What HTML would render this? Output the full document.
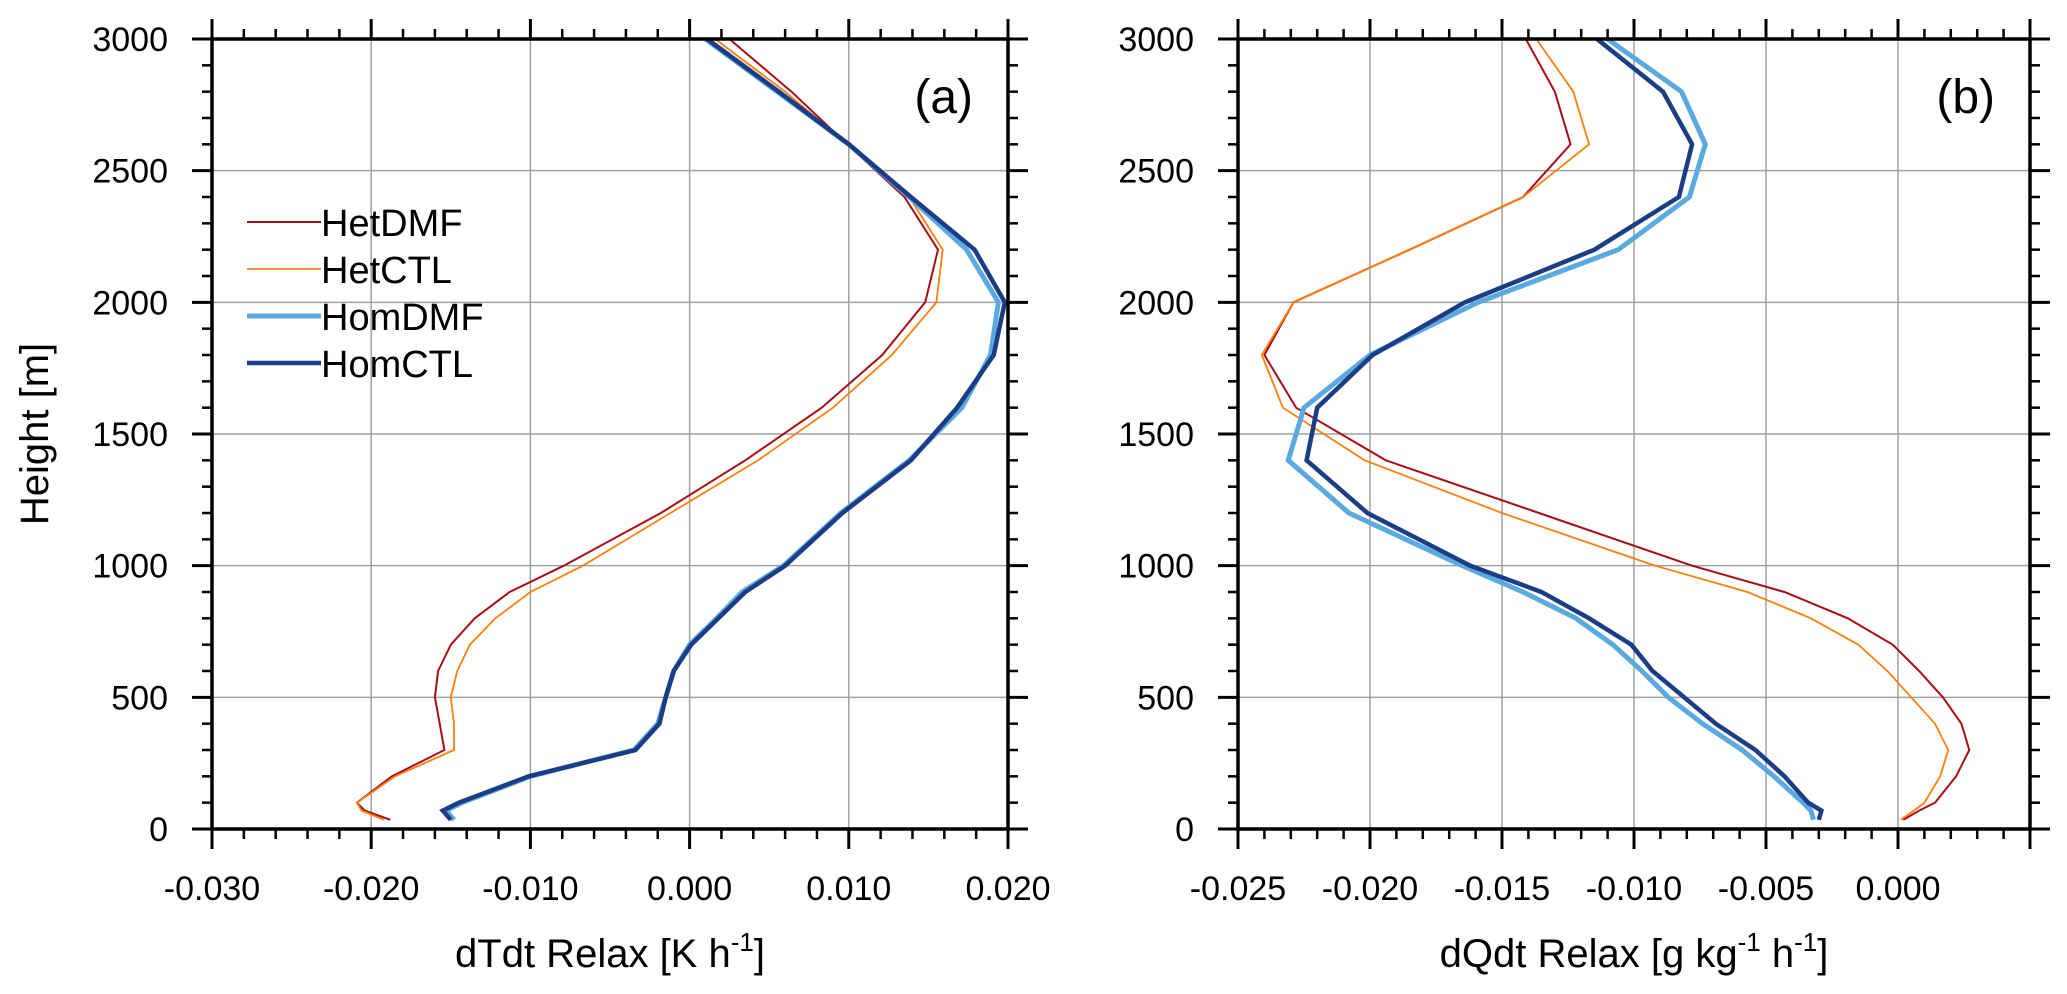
<!DOCTYPE html>
<html><head><meta charset="utf-8">
<style>
html,body{margin:0;padding:0;background:#fff;}
svg{display:block;font-family:"Liberation Sans",Arial,sans-serif;}
</style></head>
<body>
<svg id="chart" width="2067" height="994" viewBox="0 0 2067 994" xmlns="http://www.w3.org/2000/svg"></svg>
<script>
// ---- data ----
const heights = [35,70,100,200,300,400,500,600,700,800,900,1000,1200,1400,1600,1800,2000,2200,2400,2600,2800,3000];
const seriesNames = ["HetDMF","HetCTL","HomDMF","HomCTL"];
// panel (a) dTdt Relax
const aHetDMF = [-0.0188,-0.0204,-0.0209,-0.0187,-0.0154,-0.0157,-0.0160,-0.0158,-0.0150,-0.0135,-0.0113,-0.0079,-0.0018,0.0035,0.0083,0.0121,0.0148,0.0156,0.0135,0.0099,0.0064,0.0025];
const aHetCTL = [-0.0192,-0.0206,-0.0209,-0.0185,-0.0148,-0.0148,-0.0150,-0.0146,-0.0138,-0.0122,-0.0100,-0.0067,-0.0012,0.0043,0.0090,0.0127,0.0155,0.0159,0.0138,0.0099,0.0060,0.0016];
const aHomDMF = [-0.0148,-0.0153,-0.0143,-0.0100,-0.0035,-0.0020,-0.0015,-0.0010,0.0000,0.0017,0.0033,0.0059,0.0095,0.0138,0.0171,0.0189,0.0194,0.0174,0.0138,0.0100,0.0055,0.0010];
const aHomCTL = [-0.0150,-0.0155,-0.0145,-0.0101,-0.0034,-0.0019,-0.0015,-0.0010,0.0001,0.0018,0.0035,0.0060,0.0096,0.0139,0.0168,0.0191,0.0198,0.0179,0.0139,0.0100,0.0056,0.0011];
// panel (b) dQdt Relax
const bHetDMF = [0.0002,0.0008,0.0014,0.0022,0.0027,0.0024,0.0017,0.0008,-0.0002,-0.0019,-0.0043,-0.0078,-0.0136,-0.0194,-0.0228,-0.0240,-0.0229,-0.0185,-0.0142,-0.0124,-0.0130,-0.0141];
const bHetCTL = [0.0001,0.0006,0.0010,0.0016,0.0019,0.0014,0.0005,-0.0004,-0.0015,-0.0033,-0.0057,-0.0092,-0.0150,-0.0202,-0.0233,-0.0241,-0.0229,-0.0185,-0.0142,-0.0117,-0.0123,-0.0137];
const bHomDMF = [-0.0032,-0.0033,-0.0036,-0.0047,-0.0059,-0.0074,-0.0087,-0.0097,-0.0108,-0.0122,-0.0142,-0.0165,-0.0208,-0.0231,-0.0225,-0.0200,-0.0159,-0.0106,-0.0079,-0.0073,-0.0082,-0.0110];
const bHomCTL = [-0.0030,-0.0029,-0.0034,-0.0043,-0.0054,-0.0069,-0.0081,-0.0093,-0.0101,-0.0117,-0.0135,-0.0162,-0.0201,-0.0224,-0.0220,-0.0199,-0.0164,-0.0115,-0.0083,-0.0078,-0.0089,-0.0114];
const aTickLabels = ["-0.030","-0.020","-0.010","0.000","0.010","0.020"];
const bTickLabels = ["-0.025","-0.020","-0.015","-0.010","-0.005","0.000"];
const yTickLabels = ["0","500","1000","1500","2000","2500","3000"];

const NS="http://www.w3.org/2000/svg";
const svg=document.getElementById('chart');
function mk(tag,attrs,parent){const e=document.createElementNS(NS,tag);for(const k in attrs)e.setAttribute(k,attrs[k]);(parent||svg).appendChild(e);return e;}

const TOP=39, BOT=829;
const styles={
  HetDMF:{c:"#a50f15",w:2},
  HetCTL:{c:"#ff7f0e",w:1.8},
  HomDMF:{c:"#5aa9df",w:5},
  HomCTL:{c:"#1a3d85",w:4.5}
};
function yS(h){return BOT-(h/3000)*(BOT-TOP);}

function panel(name,L,R,xmin,xmax,majorStep,minorStep,tickLabels,series,title,tag){
  const g=mk('g',{});
  
  
  const xS=v=>L+(v-xmin)/(xmax-xmin)*(R-L);
  // gridlines
  const nMaj=Math.round((xmax-xmin)/majorStep);
  for(let i=1;i<nMaj;i++){
    const x=xS(xmin+i*majorStep);
    const gl=mk('line',{x1:x,x2:x,y1:TOP,y2:BOT,stroke:"#a0a0a0","stroke-width":1.5},g);
    
    
  }
  for(let i=1;i<6;i++){
    const y=yS(i*500);
    const gl=mk('line',{x1:L,x2:R,y1:y,y2:y,stroke:"#a0a0a0","stroke-width":1.5},g);
    
    
  }
  // series
  const order=["HetDMF","HetCTL","HomDMF","HomCTL"];
  order.forEach(k=>{
    const vals=series[k];
    const pts=vals.map((v,i)=>xS(v).toFixed(1)+","+yS(heights[i]).toFixed(1)).join(" ");
    const pl=mk('polyline',{points:pts,fill:"none",stroke:styles[k].c,"stroke-width":styles[k].w,"stroke-linejoin":"miter"},g);
    
    
  });
  // ticks x
  const nMin=Math.round((xmax-xmin)/minorStep);
  for(let i=0;i<=nMin;i++){
    const x=xS(xmin+i*minorStep);
    const major=(i%Math.round(majorStep/minorStep))===0;
    const len=major?20:10, w=major?3:2.5;
    mk('line',{x1:x,x2:x,y1:BOT,y2:BOT+len,stroke:"#000","stroke-width":w},g);
    mk('line',{x1:x,x2:x,y1:TOP,y2:TOP-len,stroke:"#000","stroke-width":w},g);
  }
  // ticks y
  for(let h=0;h<=3000;h+=100){
    const y=yS(h); const major=h%500===0; const len=major?20:10, w=major?3:2.5;
    mk('line',{x1:L,x2:L-len,y1:y,y2:y,stroke:"#000","stroke-width":w},g);
    mk('line',{x1:R,x2:R+len,y1:y,y2:y,stroke:"#000","stroke-width":w},g);
  }
  // frame
  const fr=mk('rect',{x:L,y:TOP,width:R-L,height:BOT-TOP,fill:"none",stroke:"#000","stroke-width":3.5},g);
  
  
  // x tick labels
  tickLabels.forEach((t,i)=>{
    const tx=mk('text',{x:xS(xmin+i*majorStep),y:900,"font-size":34,"text-anchor":"middle",fill:"#000"},g);
    tx.textContent=t;
    
    
  });
  // y tick labels
  yTickLabels.forEach((t,i)=>{
    const ty=mk('text',{x:L-44,y:yS(i*500)+12,"font-size":34,"text-anchor":"end",fill:"#000"},g);
    ty.textContent=t;
    
    
  });
  // x title
  const xt=mk('text',{x:(L+R)/2,y:967,"font-size":40,"text-anchor":"middle",fill:"#000"},g);
  
  
  title(xt);
  // panel tag
  const pt=mk('text',{x:R-35,y:113,"font-size":48,"text-anchor":"end",fill:"#000"},g);
  pt.textContent=tag;
  
  
}
function sup(el,t){const s=document.createElementNS(NS,'tspan');s.setAttribute('dy','-16');s.setAttribute('font-size','26');s.textContent=t;el.appendChild(s);return s;}
function tsp(el,t,dy){const s=document.createElementNS(NS,'tspan');if(dy)s.setAttribute('dy',dy);s.textContent=t;el.appendChild(s);return s;}

panel('panel-a',212,1008,-0.030,0.020,0.010,0.002,aTickLabels,
  {HetDMF:aHetDMF,HetCTL:aHetCTL,HomDMF:aHomDMF,HomCTL:aHomCTL},
  el=>{tsp(el,"dTdt Relax [K h");sup(el,"-1");tsp(el,"]","16");},"(a)");
panel('panel-b',1238,2030,-0.025,0.005,0.005,0.001,bTickLabels,
  {HetDMF:bHetDMF,HetCTL:bHetCTL,HomDMF:bHomDMF,HomCTL:bHomCTL},
  el=>{tsp(el,"dQdt Relax [g kg");sup(el,"-1");tsp(el," h","16");sup(el,"-1");tsp(el,"]","16");},"(b)");

// y title
const yt=mk('text',{x:0,y:0,"font-size":40,"text-anchor":"middle",fill:"#000",transform:"translate(48,434) rotate(-90)"});
yt.textContent="Height [m]";



// legend
const lg=mk('g',{});


const legY=[222,269,316,363];
seriesNames.forEach((k,i)=>{
  const ln=mk('line',{x1:247,x2:321,y1:legY[i],y2:legY[i],stroke:styles[k].c,"stroke-width":styles[k].w},lg);
  
  
  const t=mk('text',{x:321,y:legY[i]+14,"font-size":38,fill:"#000"},lg);
  t.textContent=k;
  
  
});
</script>
</body></html>
